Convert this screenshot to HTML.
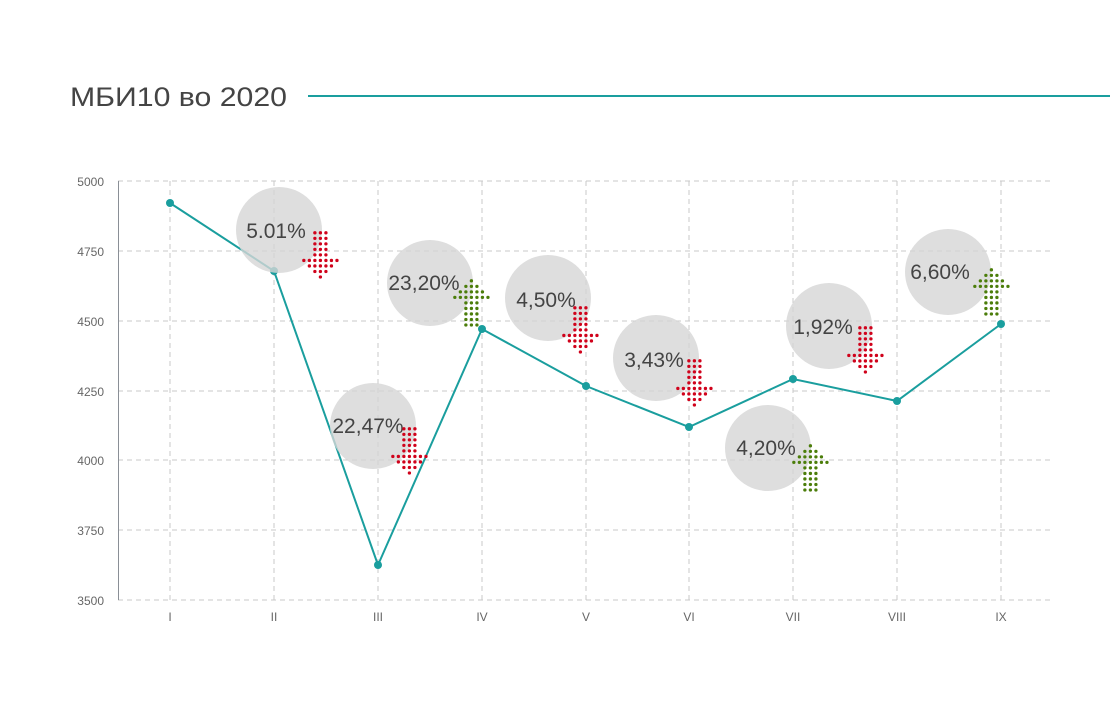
<!DOCTYPE html>
<html><head><meta charset="utf-8"><style>
html,body{margin:0;padding:0;background:#fff;}
svg{display:block;}
text{font-family:"Liberation Sans",sans-serif;}
</style></head><body>
<svg width="1110" height="706" viewBox="0 0 1110 706" xmlns="http://www.w3.org/2000/svg">
<defs>
<g id="dn">
<circle cx="14" cy="2" r="1.8"/><circle cx="20" cy="2" r="1.8"/><circle cx="26" cy="2" r="1.8"/>
<circle cx="14" cy="8" r="1.8"/><circle cx="20" cy="8" r="1.8"/><circle cx="26" cy="8" r="1.8"/>
<circle cx="14" cy="14" r="1.8"/><circle cx="20" cy="14" r="1.8"/><circle cx="26" cy="14" r="1.8"/>
<circle cx="14" cy="20" r="1.8"/><circle cx="20" cy="20" r="1.8"/><circle cx="26" cy="20" r="1.8"/>
<circle cx="14" cy="26" r="1.8"/><circle cx="20" cy="26" r="1.8"/><circle cx="26" cy="26" r="1.8"/>
<circle cx="2" cy="32" r="1.8"/><circle cx="8" cy="32" r="1.8"/><circle cx="14" cy="32" r="1.8"/><circle cx="20" cy="32" r="1.8"/><circle cx="26" cy="32" r="1.8"/><circle cx="32" cy="32" r="1.8"/><circle cx="38" cy="32" r="1.8"/>
<circle cx="8" cy="38" r="1.8"/><circle cx="14" cy="38" r="1.8"/><circle cx="20" cy="38" r="1.8"/><circle cx="26" cy="38" r="1.8"/><circle cx="32" cy="38" r="1.8"/>
<circle cx="14" cy="44" r="1.8"/><circle cx="20" cy="44" r="1.8"/><circle cx="26" cy="44" r="1.8"/>
<circle cx="20" cy="50" r="1.8"/>
</g>
<g id="up" transform="">
<use href="#dn" transform="translate(0,52) scale(1,-1)"/>
</g>
</defs>

<!-- title -->
<text x="70" y="106" font-size="27" fill="#444" textLength="217" lengthAdjust="spacingAndGlyphs">МБИ10 во 2020</text>
<line x1="308" y1="96" x2="1110" y2="96" stroke="#1a9e9e" stroke-width="2"/>

<!-- grid -->
<g stroke="#c8c8c8" stroke-width="1" stroke-dasharray="5,4" fill="none">
<line x1="118" y1="181" x2="1054" y2="181"/>
<line x1="118" y1="251" x2="1054" y2="251"/>
<line x1="118" y1="321" x2="1054" y2="321"/>
<line x1="118" y1="391" x2="1054" y2="391"/>
<line x1="118" y1="460" x2="1054" y2="460"/>
<line x1="118" y1="530" x2="1054" y2="530"/>
<line x1="118" y1="600" x2="1054" y2="600"/>
<line x1="170" y1="181" x2="170" y2="600"/>
<line x1="274" y1="181" x2="274" y2="600"/>
<line x1="378" y1="181" x2="378" y2="600"/>
<line x1="482" y1="181" x2="482" y2="600"/>
<line x1="586" y1="181" x2="586" y2="600"/>
<line x1="689" y1="181" x2="689" y2="600"/>
<line x1="793" y1="181" x2="793" y2="600"/>
<line x1="897" y1="181" x2="897" y2="600"/>
<line x1="1001" y1="181" x2="1001" y2="600"/>
</g>
<line x1="118.5" y1="181" x2="118.5" y2="600" stroke="#8a8f96" stroke-width="1"/>

<g font-size="12" fill="#666" text-anchor="end">
<text x="104" y="186">5000</text>
<text x="104" y="256">4750</text>
<text x="104" y="326">4500</text>
<text x="104" y="396">4250</text>
<text x="104" y="465">4000</text>
<text x="104" y="535">3750</text>
<text x="104" y="605">3500</text>
</g>
<g font-size="12" fill="#666" text-anchor="middle">
<text x="170" y="621">I</text><text x="274" y="621">II</text><text x="378" y="621">III</text>
<text x="482" y="621">IV</text><text x="586" y="621">V</text><text x="689" y="621">VI</text>
<text x="793" y="621">VII</text><text x="897" y="621">VIII</text><text x="1001" y="621">IX</text>
</g>

<!-- series -->
<polyline points="170,203 274,271 378,565 482,329 586,386 689,427 793,379 897,401 1001,324" fill="none" stroke="#1a9e9e" stroke-width="2"/>
<g fill="#1a9e9e">
<circle cx="170" cy="203" r="4"/><circle cx="274" cy="271" r="4"/><circle cx="378" cy="565" r="4"/>
<circle cx="482" cy="329" r="4"/><circle cx="586" cy="386" r="4"/><circle cx="689" cy="427" r="4"/>
<circle cx="793" cy="379" r="4"/><circle cx="897" cy="401" r="4"/><circle cx="1001" cy="324" r="4"/>
</g>

<!-- bubbles -->
<g fill="#d6d6d6" fill-opacity="0.8">
<circle cx="279" cy="230" r="43"/>
<circle cx="430" cy="283" r="43"/>
<circle cx="373" cy="426" r="43"/>
<circle cx="548" cy="298" r="43"/>
<circle cx="656" cy="358" r="43"/>
<circle cx="768" cy="448" r="43"/>
<circle cx="829" cy="326" r="43"/>
<circle cx="948" cy="272" r="43"/>
</g>
<g font-size="21" fill="#444" text-anchor="middle">
<text x="276" y="238">5.01%</text>
<text x="424" y="290">23,20%</text>
<text x="368" y="433">22,47%</text>
<text x="546" y="307">4,50%</text>
<text x="654" y="367">3,43%</text>
<text x="766" y="455">4,20%</text>
<text x="823" y="334">1,92%</text>
<text x="940" y="279">6,60%</text>
</g>

<!-- arrows -->
<g fill="#d0021b">
<use href="#dn" transform="translate(302,231) scale(0.92)"/>
<use href="#dn" transform="translate(391,427) scale(0.92)"/>
<use href="#dn" transform="translate(562,306) scale(0.92)"/>
<use href="#dn" transform="translate(676,359) scale(0.92)"/>
<use href="#dn" transform="translate(847,326) scale(0.92)"/>
</g>
<g fill="#4b7d0a">
<use href="#up" transform="translate(453,279) scale(0.92)"/>
<use href="#up" transform="translate(792,444) scale(0.92)"/>
<use href="#up" transform="translate(973,268) scale(0.92)"/>
</g>
</svg>
</body></html>
